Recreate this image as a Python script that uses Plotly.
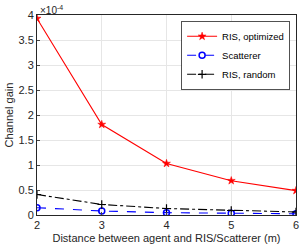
import plotly.graph_objects as go

distance = [2, 3, 4, 5, 6]
ris_optimized = [3.93, 1.81, 1.03, 0.686, 0.488]
scatterer = [0.146, 0.08, 0.047, 0.035, 0.025]
ris_random = [0.41, 0.21, 0.13, 0.09, 0.06]

x_ticks = [2, 3, 4, 5, 6]
y_ticks = [0, 0.5, 1, 1.5, 2, 2.5, 3, 3.5, 4]
y_tick_labels = ["0", "0.5", "1", "1.5", "2", "2.5", "3", "3.5", "4"]

font = "Liberation Sans, Arial, sans-serif"

fig = go.Figure()
fig.add_trace(go.Scatter(
    x=distance, y=ris_optimized, name="RIS, optimized", mode="lines+markers",
    line=dict(color="#ff0000", width=1.1, dash="solid"),
    marker=dict(symbol="star", size=6, color="#ff0000", line=dict(width=0.5, color="#ff0000")),
))
fig.add_trace(go.Scatter(
    x=distance, y=scatterer, name="Scatterer", mode="lines+markers",
    line=dict(color="#0000ff", width=1.1, dash="dash"),
    marker=dict(symbol="circle-open", size=6, color="#0000ff", line=dict(width=1.5, color="#0000ff")),
))
fig.add_trace(go.Scatter(
    x=distance, y=ris_random, name="RIS, random", mode="lines+markers",
    line=dict(color="#000000", width=1.1, dash="dashdot"),
    marker=dict(symbol="cross-thin-open", size=6, color="#000000", line=dict(width=1.2, color="#000000")),
))

fig.update_layout(
    width=305, height=249,
    margin=dict(l=37, r=6, t=15, b=32),
    paper_bgcolor="white", plot_bgcolor="white",
    font=dict(family=font, size=11, color="#262626"),
    showlegend=True,
    legend=dict(
        x=0.978, y=0.97, xanchor="right", yanchor="top",
        bgcolor="white", bordercolor="#262626", borderwidth=0.8,
        font=dict(size=9.5, color="#000000"),
        tracegroupgap=0, itemwidth=30,
    ),
    xaxis=dict(
        range=[2, 6], tickvals=x_ticks, ticks="inside", ticklen=3,
        showgrid=True, gridcolor="#e6e6e6", gridwidth=1,
        showline=True, linecolor="#262626", linewidth=1, mirror=True,
        zeroline=False,
        title=dict(text="Distance between agent and RIS/Scatterer (m)", font=dict(size=11), standoff=4),
        tickfont=dict(size=11),
    ),
    yaxis=dict(
        range=[0, 4], tickvals=y_ticks, ticktext=y_tick_labels, ticks="inside", ticklen=3,
        showgrid=True, gridcolor="#e6e6e6", gridwidth=1,
        showline=True, linecolor="#262626", linewidth=1, mirror=True,
        zeroline=False,
        title=dict(text="Channel gain", font=dict(size=11), standoff=2),
        tickfont=dict(size=11),
    ),
)

fig.add_annotation(
    xref="paper", yref="paper", x=0.0, y=1.0, xanchor="left", yanchor="bottom",
    text="×10<sup>-4</sup>", showarrow=False, font=dict(size=10, color="#262626"),
    xshift=1, yshift=-3,
)

fig.write_html("out.html", config={"displayModeBar": False},
               post_script="document.body.style.margin='0';")
